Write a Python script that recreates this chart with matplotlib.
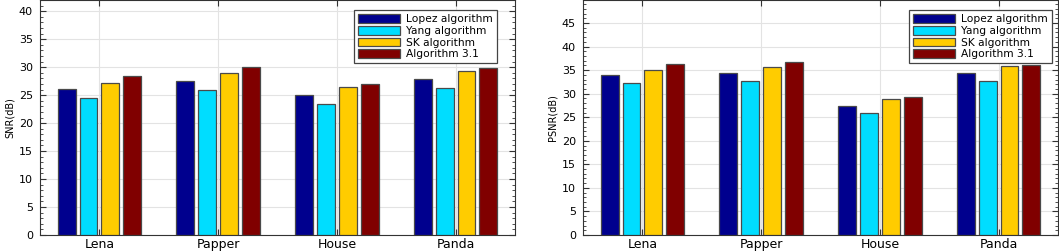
import matplotlib
matplotlib.use("Agg")
import matplotlib.pyplot as plt
from matplotlib.ticker import MultipleLocator
import numpy as np

plt.rcParams['font.family'] = ['DejaVu Sans']

images = ['Lena', 'Papper', 'House', 'Panda']
methods = ['Lopez algorithm', 'Yang algorithm', 'SK algorithm', 'Algorithm 3.1']
colors = ['#00008E', '#00DDFF', '#FFCC00', '#800000']

snr_lopez = [26.1, 27.5, 25.0, 27.8]
snr_yang = [24.5, 25.9, 23.4, 26.3]
snr_sk = [27.2, 29.0, 26.5, 29.4]
snr_alg = [28.5, 30.0, 26.9, 29.8]

psnr_lopez = [33.9, 34.3, 27.4, 34.3]
psnr_yang = [32.3, 32.7, 25.8, 32.8]
psnr_sk = [35.1, 35.7, 28.9, 35.8]
psnr_alg = [36.3, 36.8, 29.3, 36.2]


def draw(ax, series, ylabel, ymax, leg_x):
    x = np.arange(1, len(images) + 1)
    step = 0.184
    for i, vals in enumerate(series):
        ax.bar(x + (i - 1.5) * step, vals, width=0.15, color=colors[i],
               edgecolor='#4a4a4a', linewidth=0.9, label=methods[i], zorder=3)
    ax.set_xlim(0.5, 4.5)
    ax.set_ylim(0, ymax)
    ax.set_xticks(x)
    ax.set_xticklabels(images, fontsize=9)
    ax.yaxis.set_major_locator(MultipleLocator(5))
    ax.yaxis.set_minor_locator(MultipleLocator(1))
    ax.tick_params(axis='y', which='both', direction='in', left=True, right=True,
                   labelsize=8, color='#333333', pad=5)
    ax.tick_params(axis='y', which='major', length=4)
    ax.tick_params(axis='y', which='minor', length=2)
    ax.tick_params(axis='x', direction='in', top=True, length=4, pad=2,
                   color='#333333')
    ax.grid(True, color='#e3e3e3', linewidth=0.8, zorder=0)
    ax.set_axisbelow(True)
    for s in ax.spines.values():
        s.set_color('#333333')
        s.set_linewidth(0.8)
    ax.set_ylabel(ylabel, fontsize=7, labelpad=3)
    leg = ax.legend(loc='upper right', bbox_to_anchor=(leg_x, 0.957),
                    fontsize=7.7, handlelength=3.9, handleheight=0.85,
                    labelspacing=0.15, borderpad=0.4, handletextpad=0.6,
                    borderaxespad=0, fancybox=False, framealpha=1)
    leg.get_frame().set_edgecolor('#444444')
    leg.get_frame().set_linewidth(0.9)


fig = plt.figure(figsize=(10.59, 2.52), dpi=100)
ax1 = fig.add_axes([40 / 1059, 17 / 252, 475 / 1059, 235 / 252])
ax2 = fig.add_axes([583 / 1059, 17 / 252, 475 / 1059, 235 / 252])

draw(ax1, [snr_lopez, snr_yang, snr_sk, snr_alg], 'SNR(dB)', 42, (497 - 40) / 475)
draw(ax2, [psnr_lopez, psnr_yang, psnr_sk, psnr_alg], 'PSNR(dB)', 49.9, (1052 - 583) / 475)

fig.savefig('out.png', dpi=100)
